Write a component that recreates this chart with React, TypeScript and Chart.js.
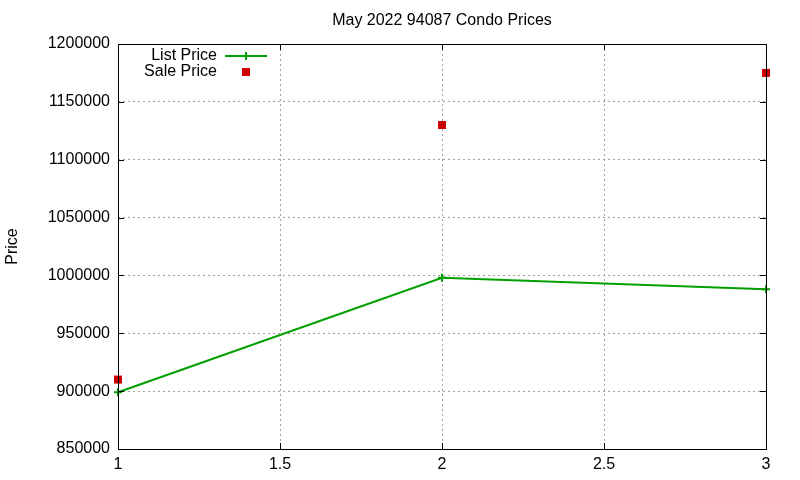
import React, { useEffect, useRef } from "react";
import { Chart, registerables } from "chart.js";

Chart.register(...registerables);

const xValues = [1, 2, 3];
const listPrice = [899000, 998000, 988000];
const salePrice = [910000, 1130000, 1175000];
const titleText = "May 2022 94087 Condo Prices";
const yTitle = "Price";
const seriesNames = ["List Price", "Sale Price"];

const FONT = "Liberation Sans, Arial, sans-serif";
const GREEN = "#00a000";
const RED = "#cc0000";

function drawPlus(ctx: CanvasRenderingContext2D, x: number, y: number, r: number) {
  ctx.beginPath();
  ctx.moveTo(x - r, y);
  ctx.lineTo(x + r, y);
  ctx.moveTo(x, y - r);
  ctx.lineTo(x, y + r);
  ctx.stroke();
}

const framePlugin = {
  id: "gnuframe",
  afterDatasetsDraw(chart: any) {
    const { ctx, chartArea: a, scales } = chart;
    const xs = scales.x;
    const ys = scales.y;
    ctx.save();
    ctx.strokeStyle = "#000";
    ctx.lineWidth = 1;
    ctx.strokeRect(Math.round(a.left) + 0.5, Math.round(a.top) + 0.5, Math.round(a.right - a.left), Math.round(a.bottom - a.top));
    const tl = 6;
    ctx.beginPath();
    xs.ticks.forEach((t: any) => {
      const px = Math.round(xs.getPixelForValue(t.value)) + 0.5;
      ctx.moveTo(px, a.bottom);
      ctx.lineTo(px, a.bottom - tl);
      ctx.moveTo(px, a.top);
      ctx.lineTo(px, a.top + tl);
    });
    ys.ticks.forEach((t: any) => {
      const py = Math.round(ys.getPixelForValue(t.value)) + 0.5;
      ctx.moveTo(a.left, py);
      ctx.lineTo(a.left + tl, py);
      ctx.moveTo(a.right, py);
      ctx.lineTo(a.right - tl, py);
    });
    ctx.stroke();

    ctx.fillStyle = "#000";
    ctx.font = `16px ${FONT}`;
    ctx.textAlign = "center";
    ctx.textBaseline = "middle";

    // title
    ctx.fillText(titleText, (a.left + a.right) / 2, 21);

    // y axis title
    ctx.save();
    ctx.translate(13, (a.top + a.bottom) / 2);
    ctx.rotate(-Math.PI / 2);
    ctx.fillText(yTitle, 0, 0);
    ctx.restore();

    // legend
    const textRight = a.left + 99;
    const y1 = a.top + 12;
    const y2 = a.top + 28;
    ctx.textAlign = "right";
    ctx.fillText(seriesNames[0], textRight, y1);
    ctx.fillText(seriesNames[1], textRight, y2);
    const sx = a.left + 128;
    ctx.strokeStyle = GREEN;
    ctx.lineWidth = 2;
    ctx.beginPath();
    ctx.moveTo(a.left + 107, y1);
    ctx.lineTo(a.left + 149, y1);
    ctx.stroke();
    drawPlus(ctx, sx, y1, 4);
    ctx.fillStyle = RED;
    ctx.fillRect(sx - 4, y2 - 4, 8, 8);
    ctx.restore();
  },
};

export default function App() {
  const ref = useRef<HTMLCanvasElement | null>(null);
  useEffect(() => {
    if (!ref.current) return;
    const chart = new Chart(ref.current, {
      type: "scatter",
      data: {
        datasets: [
          {
            label: seriesNames[0],
            data: xValues.map((x, i) => ({ x, y: listPrice[i] })),
            showLine: true,
            borderColor: GREEN,
            backgroundColor: GREEN,
            borderWidth: 2,
            pointStyle: "cross",
            pointRadius: 4,
            pointBorderWidth: 2,
            pointBorderColor: GREEN,
            clip: false,
          },
          {
            label: seriesNames[1],
            data: xValues.map((x, i) => ({ x, y: salePrice[i] })),
            showLine: false,
            backgroundColor: RED,
            borderColor: RED,
            pointStyle: "rect",
            pointRadius: 5.66,
            pointBorderWidth: 0,
            clip: false,
          } as any,
        ],
      },
      options: {
        animation: false,
        responsive: false,
        devicePixelRatio: 1,
        layout: { padding: { left: 0, right: 34, top: 44, bottom: 0 } },
        plugins: {
          legend: { display: false },
          tooltip: { enabled: false },
          title: { display: false },
        },
        scales: {
          x: {
            type: "linear",
            min: 1,
            max: 3,
            ticks: {
              stepSize: 0.5,
              color: "#000",
              font: { family: FONT, size: 16 },
              padding: 6,
              maxRotation: 0,
              callback: (v: any) => String(v),
            },
            grid: {
              color: "#a0a0a0",
              lineWidth: 1,
              drawTicks: false,
            },
            border: { display: false, dash: [2, 3] },
            afterFit: (s: any) => {
              s.height = 31;
            },
          },
          y: {
            type: "linear",
            min: 850000,
            max: 1200000,
            ticks: {
              stepSize: 50000,
              color: "#000",
              font: { family: FONT, size: 16 },
              padding: 8,
              callback: (v: any) => String(v),
            },
            grid: {
              color: "#a0a0a0",
              lineWidth: 1,
              drawTicks: false,
            },
            border: { display: false, dash: [2, 3] },
            afterFit: (s: any) => {
              s.width = 118;
            },
          },
        },
      },
      plugins: [framePlugin],
    });
    return () => chart.destroy();
  }, []);
  return (
    <div style={{ position: "absolute", left: 0, top: 0, width: 800, height: 480, background: "#fff" }}>
      <canvas ref={ref} width={800} height={480} style={{ width: 800, height: 480, display: "block" }} />
    </div>
  );
}
